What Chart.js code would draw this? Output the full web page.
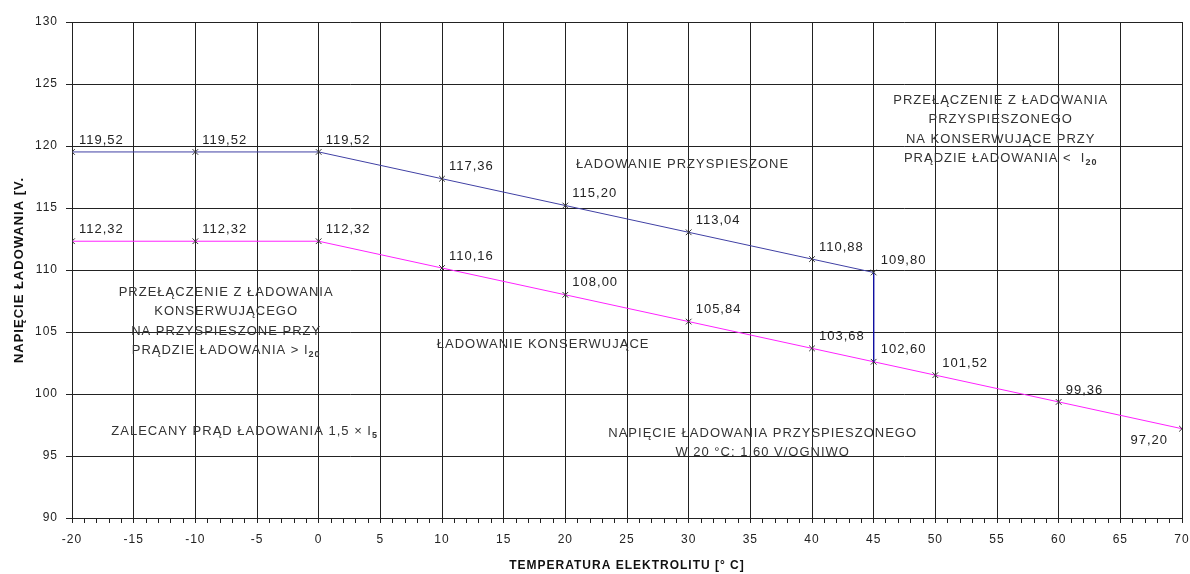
<!DOCTYPE html>
<html>
<head>
<meta charset="utf-8">
<script src="https://cdn.jsdelivr.net/npm/chart.js@4"></script>
<style>
  body { margin: 0; background: #fff; }
  canvas { display: block; }
</style>
</head>
<body>
<canvas id="chart" width="1190" height="574"></canvas>
<script>
// napiecie ladowania przyspieszonego (niebieska) i konserwujacego (rozowa)
const boostTemps = [-20, -10, 0, 10, 20, 30, 40, 45];
const boostVolts = [119.52, 119.52, 119.52, 117.36, 115.20, 113.04, 110.88, 109.80];
const floatTemps = [-20, -10, 0, 10, 20, 30, 40, 45, 50, 60, 70];
const floatVolts = [112.32, 112.32, 112.32, 110.16, 108.00, 105.84, 103.68, 102.60, 101.52, 99.36, 97.20];
const switchTemps = [45, 45];
const switchVolts = [109.80, 102.60];

const xMin = -20, xMax = 70, yMin = 90, yMax = 130;

// opisy na wykresie (srodek tekstu w jednostkach osi)
const notes = [
  { x: 29.5, y: 118.5, lines: ['ŁADOWANIE PRZYSPIESZONE'] },
  { x: 18.2, y: 104.0, lines: ['ŁADOWANIE KONSERWUJĄCE'] },
  { x: -7.5, y: 108.2, lines: ['PRZEŁĄCZENIE Z ŁADOWANIA', 'KONSERWUJĄCEGO', 'NA PRZYSPIESZONE PRZY', 'PRĄDZIE ŁADOWANIA > I_{20}'] },
  { x: 55.3, y: 123.7, lines: ['PRZEŁĄCZENIE Z ŁADOWANIA', 'PRZYSPIESZONEGO', 'NA KONSERWUJĄCE PRZY', 'PRĄDZIE ŁADOWANIA <  I_{20}'] },
  { x: -6.0, y: 97.0, lines: ['ZALECANY PRĄD ŁADOWANIA 1,5 × I_{5}'] },
  { x: 36.0, y: 96.85, lines: ['NAPIĘCIE ŁADOWANIA PRZYSPIESZONEGO', 'W 20 °C: 1,60 V/OGNIWO'] }
];

const FONT = "'Liberation Sans', Arial, sans-serif";

function toPoints(xs, ys) {
  return xs.map((t, i) => ({ x: t, y: ys[i] }));
}

function drawRich(ctx, text, cx, cy) {
  const parts = text.split(/_\{([^}]*)\}/);
  const mainFont = '13px ' + FONT;
  const subFont = 'bold 9px ' + FONT;
  let total = 0;
  parts.forEach((p, i) => {
    ctx.font = i % 2 ? subFont : mainFont;
    total += ctx.measureText(p).width;
  });
  let x = cx - total / 2;
  ctx.textAlign = 'left';
  ctx.textBaseline = 'middle';
  parts.forEach((p, i) => {
    ctx.font = i % 2 ? subFont : mainFont;
    ctx.fillText(p, x, i % 2 ? cy + 4 : cy);
    x += ctx.measureText(p).width;
  });
}

// szerokie odstepy miedzy literami jak w oryginale
const spacingPlugin = {
  id: 'spacing',
  beforeUpdate(chart) { chart.ctx.letterSpacing = '1px'; },
  beforeDraw(chart) { chart.ctx.letterSpacing = '1px'; }
};

const notesPlugin = {
  id: 'notes',
  afterDatasetsDraw(chart) {
    const ctx = chart.ctx;
    const xs = chart.scales.x, ys = chart.scales.y;
    ctx.save();
    ctx.letterSpacing = '1px';
    ctx.fillStyle = '#222';

    // wartosci przy punktach
    chart.data.datasets.forEach((ds, i) => {
      if (!ds.valueLabels) return;
      chart.getDatasetMeta(i).data.forEach((pt, j) => {
        const txt = ds.data[j].y.toFixed(2).replace('.', ',');
        ctx.font = '13px ' + FONT;
        ctx.textBaseline = 'middle';
        if (ds.data[j].x === xMax) {
          ctx.textAlign = 'right';
          ctx.fillText(txt, pt.x - 14, pt.y + 12);
        } else {
          ctx.textAlign = 'left';
          ctx.fillText(txt, pt.x + 7, pt.y - 12);
        }
      });
    });

    ctx.fillStyle = '#333';
    notes.forEach(n => {
      const cx = xs.getPixelForValue(n.x);
      const cy = ys.getPixelForValue(n.y);
      n.lines.forEach((line, k) => drawRich(ctx, line, cx, cy + k * 19.5));
    });
    ctx.restore();
  }
};

new Chart(document.getElementById('chart'), {
  type: 'scatter',
  data: {
    datasets: [
      {
        data: toPoints(boostTemps, boostVolts),
        showLine: true,
        borderColor: '#4040a4',
        borderWidth: 1,
        pointStyle: 'crossRot',
        pointRadius: 4,
        pointBorderColor: '#333',
        pointBorderWidth: 1,
        valueLabels: true
      },
      {
        data: toPoints(switchTemps, switchVolts),
        showLine: true,
        borderColor: '#1010a0',
        borderWidth: 1,
        pointRadius: 0
      },
      {
        data: toPoints(floatTemps, floatVolts),
        showLine: true,
        borderColor: '#ff22ff',
        borderWidth: 1,
        pointStyle: 'crossRot',
        pointRadius: 4,
        pointBorderColor: '#333',
        pointBorderWidth: 1,
        valueLabels: true
      }
    ]
  },
  options: {
    responsive: false,
    animation: false,
    layout: { padding: { top: 22, right: 8, left: 0, bottom: 0 } },
    plugins: {
      legend: { display: false },
      tooltip: { enabled: false }
    },
    scales: {
      x: {
        type: 'linear',
        min: xMin,
        max: xMax,
        afterFit: s => { s.height = 56; s.paddingRight = 0; s.paddingLeft = 0; },
        ticks: {
          stepSize: 1,
          autoSkip: false,
          maxRotation: 0,
          padding: 9,
          color: '#222',
          font: { family: FONT, size: 12 },
          callback: v => (v % 5 === 0 ? String(v) : '')
        },
        grid: {
          color: c => (c.tick && c.tick.value % 5 === 0 ? '#222' : 'rgba(0,0,0,0)'),
          tickColor: '#222',
          tickLength: 5,
          lineWidth: 1
        },
        border: { color: '#222' },
        title: {
          display: true,
          text: 'TEMPERATURA ELEKTROLITU [° C]',
          color: '#111',
          font: { family: FONT, size: 12, weight: 'bold' },
          padding: { top: 0, bottom: 1 }
        }
      },
      y: {
        min: yMin,
        max: yMax,
        afterFit: s => { s.width = 72; },
        ticks: {
          stepSize: 5,
          padding: 8,
          color: '#222',
          font: { family: FONT, size: 12 }
        },
        grid: {
          color: '#222',
          tickColor: '#222',
          tickLength: 6,
          lineWidth: 1
        },
        border: { color: '#222' },
        title: {
          display: true,
          text: 'NAPIĘCIE ŁADOWANIA [V.',
          color: '#111',
          font: { family: FONT, size: 13, weight: 'bold' },
          padding: { top: 12, bottom: 0 }
        }
      }
    }
  },
  plugins: [spacingPlugin, notesPlugin]
});
</script>
</body>
</html>
